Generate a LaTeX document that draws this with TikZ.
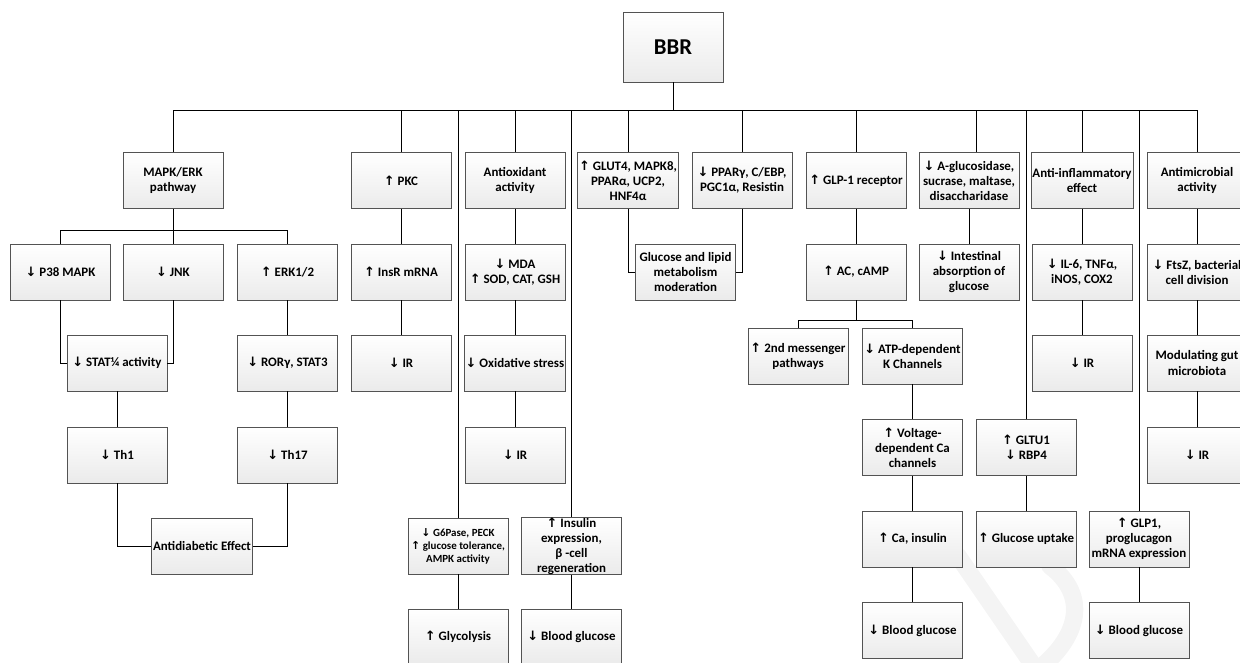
\documentclass[tikz,border=0pt]{standalone}
\usepackage{fontspec}
\setmainfont{Carlito}
\newfontfamily\arrfont{DejaVu Sans}
\newcommand\myup{{\arrfont ↑}}
\newcommand\mydown{{\arrfont ↓}}
\begin{document}
\begin{tikzpicture}[x=0.75pt,y=-0.75pt,
  box/.style={draw=gray!65!black, line width=0.6pt, top color=white, bottom color=gray!16,
    minimum width=75pt, minimum height=42pt, inner sep=1pt, align=center,
    font=\bfseries\fontsize{9.7}{11.3}\selectfont},
  conn/.style={line width=0.75pt, draw=black},
  wmark/.style={draw=gray!9, line width=13pt, line cap=round}]
\useasboundingbox (0,0) rectangle (1240,662);

% faint watermark strokes (behind everything)
\draw[wmark] (958,556) -- (1035,668);
\draw[wmark] (1050,566) .. controls (1088,595) and (1080,635) .. (1040,668);

% root
\node[box, minimum height=52.5pt, font=\bfseries\fontsize{17}{19}\selectfont] (bbr) at (673,47) {BBR};

% row 1
\node[box] (mapk) at (173,180.5) {MAPK/ERK\\pathway};
\node[box] (pkc) at (401,180.5) {\myup{} PKC};
\node[box] (antiox) at (515,180.5) {Antioxidant\\activity};
\node[box] (glut4) at (628,180.5) {\myup{} GLUT4, MAPK8,\\PPARα, UCP2,\\HNF4α};
\node[box] (ppar) at (742,180.5) {\mydown{} PPARγ, C/EBP,\\PGC1α, Resistin};
\node[box] (glp1r) at (856,180.5) {\myup{} GLP-1 receptor};
\node[box] (agluc) at (969,180.5) {\mydown{} A-glucosidase,\\sucrase, maltase,\\disaccharidase};
\node[box] (antiinf) at (1082,180.5) {Anti-inflammatory\\effect};
\node[box] (antimic) at (1197,180.5) {Antimicrobial\\activity};

% row 2
\node[box] (p38) at (60.5,272) {\mydown{} P38 MAPK};
\node[box] (jnk) at (173,272) {\mydown{} JNK};
\node[box] (erk) at (287.5,272) {\myup{} ERK1/2};
\node[box] (insr) at (401,272) {\myup{} InsR mRNA};
\node[box] (mda) at (515,272) {\mydown{} MDA\\\myup{} SOD, CAT, GSH};
\node[box] (gluclip) at (685.5,272) {Glucose and lipid\\metabolism\\moderation};
\node[box] (acamp) at (856,272) {\myup{} AC, cAMP};
\node[box] (intest) at (969,272) {\mydown{} Intestinal\\absorption of\\glucose};
\node[box] (il6) at (1082,272) {\mydown{} IL-6, TNFα,\\iNOS, COX2};
\node[box] (ftsz) at (1197,272) {\mydown{} FtsZ, bacterial\\cell division};

% row 3
\node[box] (stat) at (117,363) {\mydown{} STAT¼ activity};
\node[box] (ror) at (287.5,363) {\mydown{} RORγ, STAT3};
\node[box] (ir1) at (401,363) {\mydown{} IR};
\node[box] (oxid) at (515,363) {\mydown{} Oxidative stress};
\node[box] (ir2) at (1082,363) {\mydown{} IR};
\node[box] (modul) at (1197,363) {Modulating gut\\microbiota};
\node[box] (msg) at (798,356) {\myup{} 2nd messenger\\pathways};
\node[box] (atp) at (912.5,356) {\mydown{} ATP-dependent\\K Channels};

% row 4
\node[box] (th1) at (117,455) {\mydown{} Th1};
\node[box] (th17) at (287.5,455) {\mydown{} Th17};
\node[box] (ir3) at (515,455) {\mydown{} IR};
\node[box] (ir4) at (1197,455) {\mydown{} IR};
\node[box] (volt) at (912.5,447.5) {\myup{} Voltage-\\dependent Ca\\channels};
\node[box] (gltu) at (1026,447.5) {\myup{} GLTU1\\\mydown{} RBP4};

% row 5
\node[box] (antidiab) at (202,546) {Antidiabetic Effect};
\node[box, font=\bfseries\fontsize{8.2}{9.8}\selectfont] (g6) at (458,546) {\mydown{} G6Pase, PECK\\\myup{} glucose tolerance,\\AMPK activity};
\node[box, inner sep=0pt] (ins) at (571.5,546) {\myup{} Insulin\\expression,\\β -cell\\regeneration};
\node[box] (ca) at (912.5,539) {\myup{} Ca, insulin};
\node[box] (upt) at (1026,539) {\myup{} Glucose uptake};
\node[box] (glp1) at (1139,539) {\myup{} GLP1,\\proglucagon\\mRNA expression};

% row 6
\node[box] (glyc) at (458,637) {\myup{} Glycolysis};
\node[box] (bg1) at (571.5,637) {\mydown{} Blood glucose};
\node[box] (bg2) at (912.5,630.5) {\mydown{} Blood glucose};
\node[box] (bg3) at (1139,630.5) {\mydown{} Blood glucose};

% main bus
\coordinate (busL) at (173,110);
\coordinate (busR) at (1197,110);
\coordinate (agdrop) at (976,110);
\draw[conn] (busL) -- (busR);
\draw[conn] (bbr.south) -- (bbr.south |- busL);
\foreach \n in {mapk,pkc,antiox,glut4,ppar,glp1r,antiinf,antimic,g6,ins,gltu,glp1}
  \draw[conn] (\n.north |- busL) -- (\n.north);
\draw[conn] (agdrop) -- (agdrop |- agluc.north);

% MAPK branch
\coordinate (subM) at (173,230);
\draw[conn] (mapk.south) -- (subM);
\draw[conn] (p38.north |- subM) -- (erk.north |- subM);
\foreach \n in {p38,jnk,erk} \draw[conn] (\n.north |- subM) -- (\n.north);
\draw[conn] (p38.south) |- (stat.west);
\draw[conn] (jnk.south) |- (stat.east);
\draw[conn] (erk) -- (ror);
\draw[conn] (stat) -- (th1);
\draw[conn] (ror) -- (th17);
\draw[conn] (th1.south) |- (antidiab.west);
\draw[conn] (th17.south) |- (antidiab.east);

% other chains
\draw[conn] (pkc) -- (insr) -- (ir1);
\draw[conn] (antiox) -- (mda) -- (oxid) -- (ir3);
\draw[conn] (glut4.south) |- (gluclip.west);
\draw[conn] (ppar.south) |- (gluclip.east);
\draw[conn] (glp1r) -- (acamp);
\coordinate (subA) at (856,320);
\draw[conn] (acamp.south) -- (subA);
\draw[conn] (msg.north |- subA) -- (atp.north |- subA);
\draw[conn] (msg.north |- subA) -- (msg.north);
\draw[conn] (atp.north |- subA) -- (atp.north);
\draw[conn] (atp) -- (volt) -- (ca) -- (bg2);
\draw[conn] (agluc) -- (intest);
\draw[conn] (gltu) -- (upt);
\draw[conn] (antiinf) -- (il6) -- (ir2);
\draw[conn] (glp1) -- (bg3);
\draw[conn] (antimic) -- (ftsz) -- (modul) -- (ir4);
\draw[conn] (g6) -- (glyc);
\draw[conn] (ins) -- (bg1);
\end{tikzpicture}
\end{document}
